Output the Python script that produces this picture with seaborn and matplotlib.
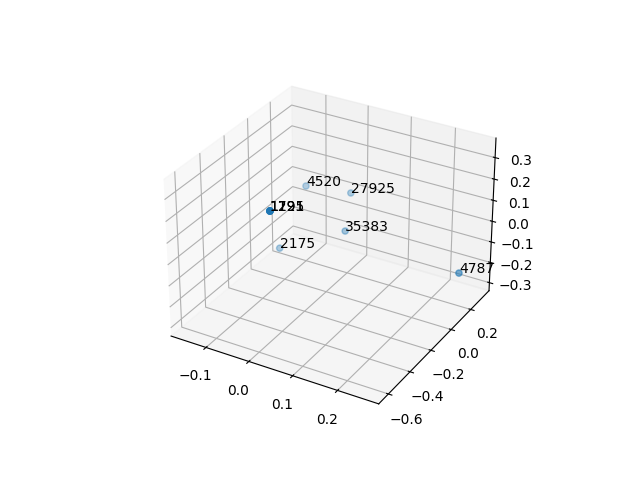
import matplotlib
matplotlib.use("Agg")
import matplotlib.pyplot as plt
import seaborn as sns
import pandas as pd

labels = ["1791", "1125", "1291", "4520", "27925", "35383", "2175", "4787"]
xs = [0.0154, 0.0154, 0.0154, -0.1596, -0.0609, -0.0324, -0.1586, 0.2534]
ys = [-0.543, -0.543, -0.543, 0.431, 0.479, 0.31, 0.174, 0.233]
zs = [0.3, 0.3, 0.3, -0.1, -0.1, -0.2, -0.3, -0.2]

df = pd.DataFrame({"x": xs, "y": ys, "z": zs, "label": labels})
sns.set_palette("tab10")
fig = plt.figure(figsize=(6.4, 4.8), dpi=100)
ax = fig.add_subplot(projection="3d")
ax.scatter(df["x"], df["y"], df["z"], color=sns.color_palette()[0])
for _, r in df.iterrows():
    ax.text(r["x"], r["y"], r["z"], r["label"])
ax.set_xlim(-0.183, 0.29)
ax.set_ylim(-0.687, 0.393)
ax.set_zlim(-0.34, 0.39)
ax.set_xticks([-0.1, 0.0, 0.1, 0.2])
ax.set_yticks([-0.6, -0.4, -0.2, 0.0, 0.2])
ax.set_zticks([-0.3, -0.2, -0.1, 0.0, 0.1, 0.2, 0.3])
fig.savefig("out.png", dpi=100)
